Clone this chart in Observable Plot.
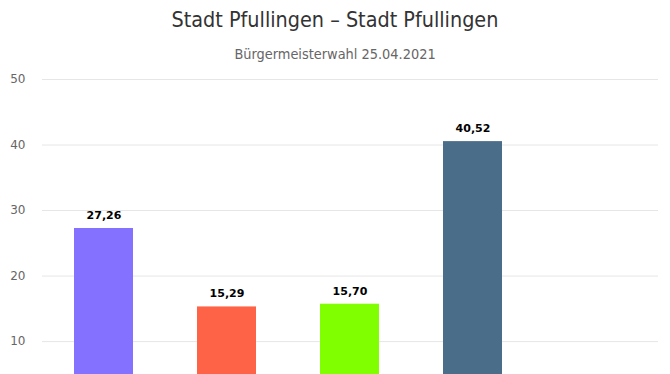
<!DOCTYPE html>
<html>
<head>
<meta charset="utf-8">
<script src="https://cdn.jsdelivr.net/npm/d3@7"></script>
<script src="https://cdn.jsdelivr.net/npm/@observablehq/plot@0.6"></script>
<style>
  html, body { margin: 0; padding: 0; background: #fff; overflow: hidden; }
  #title { height: 40px; line-height: 40px; text-align: center; font-family: "DejaVu Sans Condensed", "DejaVu Sans", sans-serif; font-size: 21.4px; color: #333; }
  #subtitle { height: 28px; line-height: 28px; text-align: center; font-family: "DejaVu Sans Condensed", "DejaVu Sans", sans-serif; font-size: 14.4px; color: #666; }
  #chart svg { display: block; }
</style>
</head>
<body>
<div id="title">Stadt Pfullingen – Stadt Pfullingen</div>
<div id="subtitle">Bürgermeisterwahl 25.04.2021</div>
<div id="chart"></div>
<script>
const categories = ["Kandidat 1", "Kandidat 2", "Kandidat 3", "Kandidat 4", "Sonstige"];
const values = [27.26, 15.29, 15.70, 40.52, null];
const colors = ["#8471ff", "#ff6347", "#80ff00", "#4a6e8a", "#cccccc"];
const yTicks = [10, 20, 30, 40, 50];

const data = categories.map((c, i) => ({category: c, value: values[i], color: colors[i]}))
  .filter(d => d.value != null);

const fmt = v => v.toFixed(2).replace(".", ",");

const chart = Plot.plot({
  width: 670,
  height: 370,
  marginTop: 11,
  marginBottom: 31.4,
  marginLeft: 42,
  marginRight: 12,
  style: {fontFamily: "DejaVu Sans, sans-serif", fontSize: "12px", color: "#666", background: "#fff"},
  x: {domain: categories, paddingInner: 0.52, paddingOuter: 0.26, axis: null},
  y: {domain: [0, 50], label: null},
  marks: [
    Plot.ruleY(yTicks, {stroke: "#e6e6e6"}),
    Plot.axisY(yTicks, {tickSize: 0, tickPadding: 17, label: null, fill: "#666", fontSize: 12}),
    Plot.barY(data, {x: "category", y: "value", fill: "color"}),
    Plot.text(data, {x: "category", y: "value", text: d => fmt(d.value), dy: -13, fill: "#000", fontWeight: "bold", fontSize: 11})
  ]
});
document.getElementById("chart").appendChild(chart);
</script>
</body>
</html>
